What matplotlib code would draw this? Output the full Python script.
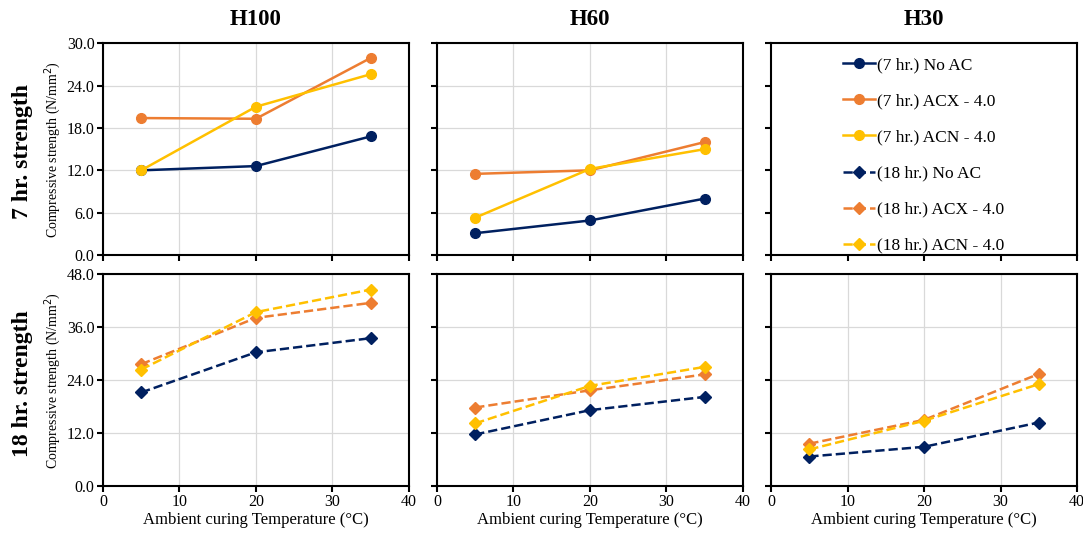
import numpy as np
import matplotlib.pyplot as plt

plt.rcParams['font.family'] = ['Liberation Serif', 'DejaVu Serif']

# Data
temps = [5, 20, 35]
panels = ['H100', 'H60', 'H30']

# 7 hr strength (H30 has no 7 hr data)
h7_noac = {'H100': [12.0, 12.6, 16.8], 'H60': [3.1, 4.9, 8.0]}
h7_acx = {'H100': [19.4, 19.3, 27.9], 'H60': [11.5, 12.0, 16.0]}
h7_acn = {'H100': [12.0, 21.0, 25.6], 'H60': [5.3, 12.2, 15.0]}

# 18 hr strength
h18_noac = {'H100': [21.2, 30.3, 33.5], 'H60': [11.7, 17.2, 20.2], 'H30': [6.7, 8.9, 14.4]}
h18_acx = {'H100': [27.6, 38.1, 41.5], 'H60': [17.8, 21.7, 25.3], 'H30': [9.6, 15.0, 25.4]}
h18_acn = {'H100': [26.4, 39.4, 44.5], 'H60': [14.2, 22.7, 27.0], 'H30': [8.3, 14.8, 23.1]}

navy, orange, yellow = '#002060', '#ED7D31', '#FFC000'

fig, axes = plt.subplots(2, 3, figsize=(10.83, 5.33), dpi=100)
fig.subplots_adjust(left=0.095, right=0.9945, top=0.919, bottom=0.088,
                    wspace=0.092, hspace=0.09)

series7 = [(h7_noac, navy, '(7 hr.) No AC'), (h7_acx, orange, '(7 hr.) ACX - 4.0'),
           (h7_acn, yellow, '(7 hr.) ACN - 4.0')]
series18 = [(h18_noac, navy, '(18 hr.) No AC'), (h18_acx, orange, '(18 hr.) ACX - 4.0'),
            (h18_acn, yellow, '(18 hr.) ACN - 4.0')]

for j, p in enumerate(panels):
    ax = axes[0, j]
    for d, c, lab in series7:
        if p in d:
            ax.plot(temps, d[p], '-', color=c, marker='o', markersize=7, lw=1.8, zorder=3)
    ax.set_ylim(0, 30)
    ax.set_yticks(np.arange(0, 31, 6))
    ax.set_title(p, fontsize=16.5, fontweight='bold', pad=13)

    ax = axes[1, j]
    for d, c, lab in series18:
        ax.plot(temps, d[p], '--', color=c, marker='D', markersize=6.5, lw=1.8, zorder=3)
    ax.set_ylim(0, 48)
    ax.set_yticks(np.arange(0, 49, 12))
    ax.set_xlabel('Ambient curing Temperature (°C)', fontsize=12, labelpad=1)

for ax in axes.flat:
    ax.set_xlim(0, 40)
    ax.set_xticks(np.arange(0, 41, 10))
    ax.grid(True, color='#d9d9d9', lw=0.9)
    ax.set_axisbelow(True)
    for s in ax.spines.values():
        s.set_linewidth(1.5)
        s.set_color('black')
    ax.tick_params(direction='out', length=4, width=1.5, labelsize=11.5, pad=2)
    ax.yaxis.set_major_formatter(plt.FormatStrFormatter('%.1f'))

for ax in axes[0, :]:
    ax.tick_params(labelbottom=False)
for ax in axes[:, 1:].flat:
    ax.tick_params(labelleft=False)

axes[0, 2].grid(False)

for i in range(2):
    axes[i, 0].set_ylabel('Compressive strength (N/mm$^2$)', fontsize=10, labelpad=3)
fig.text(0.021, 0.715, '7 hr. strength', rotation=90, fontsize=17, fontweight='bold',
         ha='center', va='center')
fig.text(0.021, 0.28, '18 hr. strength', rotation=90, fontsize=17, fontweight='bold',
         ha='center', va='center')

# legend in the empty top-right panel
leg_handles = []
for d, c, lab in series7:
    leg_handles.append(plt.Line2D([], [], color=c, marker='o', markersize=7, lw=1.8, label=lab))
for d, c, lab in series18:
    leg_handles.append(plt.Line2D([], [], color=c, marker='D', markersize=6.5, lw=1.8,
                                  ls='--', label=lab))
axes[0, 2].legend(handles=leg_handles, loc='center left', frameon=False, fontsize=12.5,
                  labelspacing=1.15, handlelength=1.85, handletextpad=0.12,
                  borderpad=0, borderaxespad=0, bbox_to_anchor=(0.235, 0.47))

fig.savefig('out.png', dpi=100)
